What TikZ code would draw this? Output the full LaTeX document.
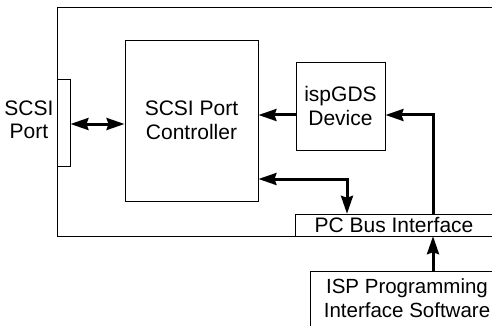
\documentclass[tikz,border=0pt]{standalone}
\usepackage{fontspec}
\setmainfont{Liberation Sans}
\usetikzlibrary{arrows.meta}
\begin{document}
\begin{tikzpicture}[x=1pt,y=-1pt,
  frame/.style={draw, line width=0.9pt},
  box/.style={draw, line width=0.9pt, inner sep=0pt, align=center, font=\fontsize{21}{23.5}\selectfont},
  lbl/.style={inner sep=0pt, align=center, font=\fontsize{21}{23.5}\selectfont},
  flow/.style={line width=3pt, -{Stealth[length=18pt,width=12pt,inset=2pt]}},
  dflow/.style={line width=3pt, {Stealth[length=18pt,width=12pt,inset=2pt]}-{Stealth[length=18pt,width=12pt,inset=2pt]}}]
\useasboundingbox (0,0) rectangle (492,326);
% outer board outline
\draw[frame] (493,7) -- (57,7) -- (57,236) -- (493,236);
\node[lbl] (scsi) at (29,120) {SCSI\\Port};
\node[box, minimum width=13pt, minimum height=87pt] (port) at (63.5,122.5) {};
\node[box, minimum width=133pt, minimum height=161pt] (ctrl) at (191.5,120.5) {SCSI Port\\Controller};
\node[box, minimum width=89pt, minimum height=88pt] (gds) at (340.5,106) {ispGDS\\Device};
\node[lbl, minimum height=22pt] (pcbus) at (394,225) {PC Bus Interface};
\draw[frame] (493,214) -- (295,214) -- (295,236);
\node[lbl, font=\fontsize{20.5}{23.5}\selectfont] (isp) at (407,298) {ISP Programming\\Interface Software};
\draw[frame] (493,271) -- (310,271) -- (310,327);
\coordinate (ispTop) at (433,271);
% connectors
\draw[dflow] (port.east |- 0,124) -- (ctrl.west |- 0,124);
\draw[flow] (gds.west |- 0,115) -- (ctrl.east |- 0,115);
\draw[flow] (pcbus.north -| ispTop) -- (433,115) -- (gds.east |- 0,115);
\draw[dflow] (ctrl.east |- 0,179) -- (347,179) -- (pcbus.north -| 347,0);
\draw[flow] (ispTop) -- (pcbus.south -| ispTop);
\end{tikzpicture}
\end{document}
